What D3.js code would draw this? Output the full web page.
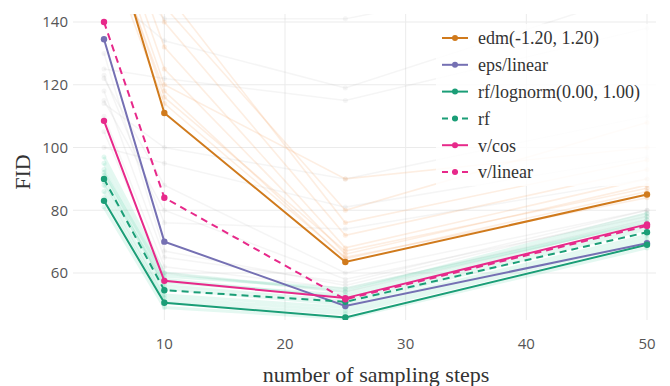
<!DOCTYPE html>
<html>
<head>
<meta charset="utf-8">
<script src="https://cdn.jsdelivr.net/npm/d3@7"></script>
<style>
  html, body { margin: 0; padding: 0; background: #fff; }
  svg { display: block; }
</style>
</head>
<body>
<svg id="chart" width="670" height="386"></svg>
<script>
// Sampling steps on the x axis
const steps = [5, 10, 25, 50];

// Highlighted runs (FID per number of sampling steps)
const edm = [175, 111, 63.5, 85];
const epsLinear = [134.5, 70, 49.5, 69.5];
const rfLognorm = [83, 50.5, 45.8, 69];
const rf = [90, 54.5, 50.8, 73];
const vCos = [108.5, 57.5, 52, 75.5];
const vLinear = [140, 84, 51.6, 75];

// Other runs, drawn faintly behind
const edmOthers = [
  [180, 125, 66, 88],
  [185, 132, 68, 90],
  [170, 118, 64.5, 86],
  [190, 140, 72, 93],
  [200, 150, 76, 96],
  [175, 120, 90, 100],
  [195, 145, 80, 108],
  [165, 114, 65, 84],
  [172, 116, 67, 87]
];
const greyOthers = [
  [150, 134, 119, 150],
  [125, 122, 115, 138],
  [160, 141, 141, 160],
  [114, 100, 90, 110],
  [100, 95, 81, 97],
  [123, 76, 74, 90],
  [122, 88, 60, 80],
  [115, 80, 58, 78],
  [110, 62, 55, 77],
  [118, 65, 57, 80],
  [105, 60, 54, 76],
  [130, 67, 56, 79]
];
const greenOthers = [
  [81, 49, 45.5, 68],
  [84, 51, 47, 70],
  [86, 52, 48, 71],
  [88, 53, 49, 72],
  [91, 55, 50, 74],
  [93, 56, 51, 75],
  [95, 58, 52, 77],
  [97, 60, 54, 79],
  [89, 57, 53, 78],
  [92, 59, 55, 76]
];

const xTicks = [10, 20, 30, 40, 50];
const yTicks = [60, 80, 100, 120, 140];

const legendLabels = ["edm(-1.20, 1.20)", "eps/linear", "rf/lognorm(0.00, 1.00)", "rf", "v/cos", "v/linear"];

const series = [
  { name: legendLabels[0], values: edm, color: "#d07a1c", dash: null },
  { name: legendLabels[1], values: epsLinear, color: "#7570b3", dash: null },
  { name: legendLabels[2], values: rfLognorm, color: "#1b9e77", dash: null },
  { name: legendLabels[3], values: rf, color: "#1b9e77", dash: "7,5" },
  { name: legendLabels[4], values: vCos, color: "#e7298a", dash: null },
  { name: legendLabels[5], values: vLinear, color: "#e7298a", dash: "7,5" }
];

const svg = d3.select("#chart");
const plot = { left: 73, right: 656, top: 14, bottom: 320 };

const x = d3.scaleLinear().domain([5, 50]).range([104, 647]);
const y = d3.scaleLinear().domain([60, 140]).range([273, 22]);

svg.append("defs").append("clipPath").attr("id", "plotClip")
  .append("rect")
  .attr("x", plot.left).attr("y", plot.top)
  .attr("width", plot.right - plot.left).attr("height", plot.bottom - plot.top);

// Grid
const grid = svg.append("g");
grid.selectAll("line.h").data(yTicks).join("line")
  .attr("x1", plot.left).attr("x2", plot.right)
  .attr("y1", d => y(d)).attr("y2", d => y(d))
  .attr("stroke", "#ebebeb").attr("stroke-width", 1);
grid.selectAll("line.v").data(xTicks).join("line")
  .attr("y1", plot.top).attr("y2", plot.bottom)
  .attr("x1", d => x(d)).attr("x2", d => x(d))
  .attr("stroke", "#ebebeb").attr("stroke-width", 1);

// Tick labels
const tickFont = "'Open Sans', sans-serif";
svg.append("g").selectAll("text").data(yTicks).join("text")
  .attr("x", 68).attr("y", d => y(d)).attr("dy", "0.35em")
  .attr("text-anchor", "end")
  .attr("font-family", tickFont).attr("font-size", 15).attr("fill", "#555")
  .text(d => d);
svg.append("g").selectAll("text").data(xTicks).join("text")
  .attr("x", d => x(d)).attr("y", 349)
  .attr("text-anchor", "middle")
  .attr("font-family", tickFont).attr("font-size", 15).attr("fill", "#555")
  .text(d => d);

// Axis titles
const titleFont = "'Liberation Serif', 'Times New Roman', serif";
svg.append("text")
  .attr("x", 376).attr("y", 382)
  .attr("text-anchor", "middle")
  .attr("font-family", titleFont).attr("font-size", 22).attr("fill", "#333")
  .text("number of sampling steps");
svg.append("text")
  .attr("transform", "translate(30,172) rotate(-90)")
  .attr("text-anchor", "middle")
  .attr("font-family", titleFont).attr("font-size", 22).attr("fill", "#333")
  .text("FID");

const line = d3.line().x((d, i) => x(steps[i])).y(d => y(d));
const area = svg.append("g").attr("clip-path", "url(#plotClip)");

function faint(data, color, opacity, width) {
  const g = area.append("g");
  data.forEach(vals => {
    g.append("path").datum(vals)
      .attr("d", line).attr("fill", "none")
      .attr("stroke", color).attr("stroke-opacity", opacity)
      .attr("stroke-width", width);
    g.selectAll(null).data(vals).join("circle")
      .attr("cx", (d, i) => x(steps[i])).attr("cy", d => y(d)).attr("r", 2.5)
      .attr("fill", color).attr("fill-opacity", opacity);
  });
}
faint(greyOthers, "#9a9a9a", 0.1, 1.5);
faint(edmOthers, "#f6a35c", 0.18, 1.6);
faint(greenOthers, "#3fcf9f", 0.14, 3);

// Highlighted runs
series.forEach(s => {
  const g = area.append("g");
  g.append("path").datum(s.values)
    .attr("d", line).attr("fill", "none")
    .attr("stroke", s.color).attr("stroke-width", 2)
    .attr("stroke-dasharray", s.dash);
  g.selectAll("circle").data(s.values).join("circle")
    .attr("cx", (d, i) => x(steps[i])).attr("cy", d => y(d)).attr("r", 3.2)
    .attr("fill", s.color);
});

// Legend
const legend = svg.append("g");
legend.append("rect")
  .attr("x", 436).attr("y", 24).attr("width", 220).attr("height", 162)
  .attr("fill", "#fff").attr("fill-opacity", 0.82);
const rowY = i => 38 + i * 26.8;
series.forEach((s, i) => {
  const gy = rowY(i);
  legend.append("line")
    .attr("x1", 442).attr("x2", 468).attr("y1", gy).attr("y2", gy)
    .attr("stroke", s.color).attr("stroke-width", 2)
    .attr("stroke-dasharray", s.dash ? "6,4" : null);
  legend.append("circle").attr("cx", 455).attr("cy", gy).attr("r", 3).attr("fill", s.color);
  legend.append("text")
    .attr("x", 478).attr("y", gy).attr("dy", "0.35em")
    .attr("font-family", titleFont).attr("font-size", 18).attr("fill", "#333")
    .text(s.name);
});
</script>
</body>
</html>
